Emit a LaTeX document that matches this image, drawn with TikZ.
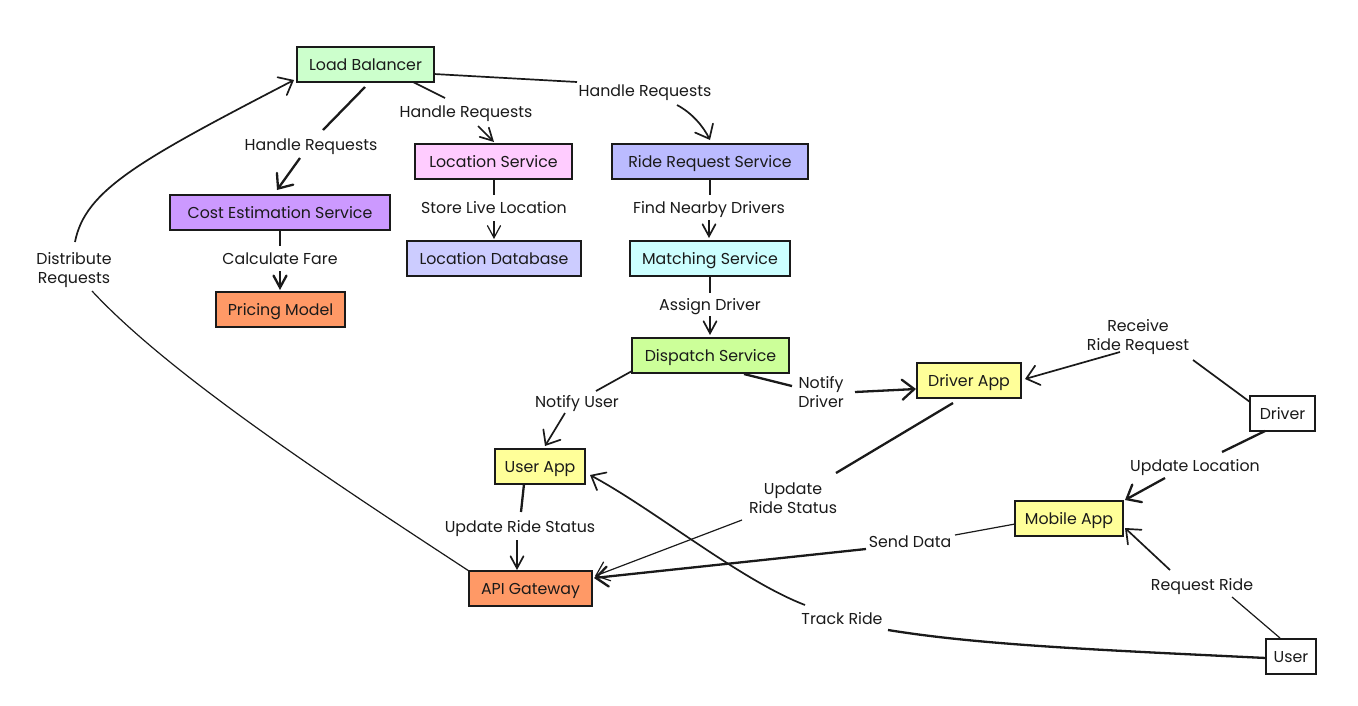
\documentclass[tikz,border=0pt]{standalone}
\usepackage{fontspec}
\setmainfont{Poppins}
\usetikzlibrary{arrows.meta}
\definecolor{cLB}{HTML}{CCFFCC}
\definecolor{cLoc}{HTML}{FFCCFF}
\definecolor{cRide}{HTML}{BBBBFF}
\definecolor{cCost}{HTML}{CC99FF}
\definecolor{cOrange}{HTML}{FF9966}
\definecolor{cLdb}{HTML}{CCCCFF}
\definecolor{cMatch}{HTML}{CCFFFF}
\definecolor{cDisp}{HTML}{CCFF99}
\definecolor{cYellow}{HTML}{FFFF99}
\definecolor{ink}{HTML}{1A1A1A}
\tikzset{
  x=1pt,y=-1pt,
  box/.style={draw=ink,line width=1.4pt,inner sep=0pt,outer sep=0pt,align=center,text=ink,text height=13pt,text depth=2pt,font=\fontsize{15.8}{19}\selectfont},
  lab/.style={inner sep=0pt,outer sep=0pt,align=center,text=ink,text height=15pt,text depth=2pt,font=\fontsize{15.8}{19}\selectfont},
  labm/.style={inner sep=0pt,outer sep=0pt,align=center,text=ink,font=\fontsize{15.8}{19}\selectfont},
  thinl/.style={draw=ink,line width=1.2pt},
  medl/.style={draw=ink,line width=1.7pt},
  thickl/.style={draw=ink,line width=2.3pt},
  arr/.style={-{Straight Barb[length=12pt,width=20pt,line cap=round]}},
  arrs/.style={-{Straight Barb[length=12pt,width=13pt,line cap=round]}},
}
\newcommand{\Pt}[3]{([shift={(#2,#3)}]#1.center)}
\begin{document}
\begin{tikzpicture}
\useasboundingbox (0,0) rectangle (1358,705);
\fill[white] (0,0) rectangle (1358,705);
% boxes
\node[box,fill=cLB,minimum width=137pt,minimum height=35pt] (lb) at (365.5,64.5) {Load Balancer};
\node[box,fill=cLoc,minimum width=157pt,minimum height=35pt] (loc) at (493.5,161.5) {Location Service};
\node[box,fill=cRide,minimum width=196pt,minimum height=35pt] (ride) at (710,161.5) {Ride Request Service};
\node[box,fill=cCost,minimum width=220pt,minimum height=35pt] (cost) at (280,212.5) {Cost Estimation Service};
\node[box,fill=cOrange,minimum width=129pt,minimum height=35pt] (price) at (280.5,309.5) {Pricing Model};
\node[box,fill=cLdb,minimum width=174pt,minimum height=35pt] (ldb) at (494,258.5) {Location Database};
\node[box,fill=cMatch,minimum width=160pt,minimum height=35pt] (match) at (710,258.5) {Matching Service};
\node[box,fill=cDisp,minimum width=157pt,minimum height=35pt] (disp) at (710.5,355.5) {Dispatch Service};
\node[box,fill=cYellow,minimum width=104pt,minimum height=35pt] (drv) at (969,380.5) {Driver App};
\node[box,fill=cYellow,minimum width=90pt,minimum height=35pt] (uapp) at (540,466.5) {User App};
\node[box,fill=cOrange,minimum width=123pt,minimum height=35pt] (api) at (530.5,588.5) {API Gateway};
\node[box,fill=cYellow,minimum width=108pt,minimum height=35pt] (mob) at (1069,518.5) {Mobile App};
\node[box,fill=white,minimum width=65pt,minimum height=35pt] (driver) at (1282.5,413.5) {Driver};
\node[box,fill=white,minimum width=50pt,minimum height=35pt] (user) at (1291,656.5) {User};
% labels
\node[lab] (hone) at (311,144) {Handle Requests};
\node[lab] (htwo) at (466,111) {Handle Requests};
\node[lab] (hthree) at (645,90) {Handle Requests};
\node[lab] (store) at (494,207) {Store Live Location};
\node[lab] (find) at (709,207) {Find Nearby Drivers};
\node[lab] (fare) at (280,258) {Calculate Fare};
\node[lab] (assign) at (710,304) {Assign Driver};
\node[lab] (nuser) at (577,401) {Notify User};
\node[labm] (ndriver) at (821,392) {Notify\\Driver};
\node[labm] (recv) at (1138,337) {Receive\\Ride Request};
\node[lab] (uloc) at (1195,465) {Update Location};
\node[labm] (ustat) at (793,498) {Update\\Ride Status};
\node[lab] (ustatb) at (520,526) {Update Ride Status};
\node[lab] (send) at (910,541) {Send Data};
\node[lab] (reqr) at (1202,584) {Request Ride};
\node[lab] (track) at (842,618) {Track Ride};
\node[labm] (dist) at (74,270) {Distribute\\Requests};
% connectors
\draw[thinl] \Pt{api}{-61.5}{-17.5} .. controls (330,480) and (170,375) .. \Pt{dist}{18}{21};
\draw[medl,arr] \Pt{dist}{1}{-28} .. controls (85,190) and (140,160) .. \Pt{lb}{-71.5}{15.5};
\draw[thickl] \Pt{lb}{-0.5}{22.5} -- \Pt{hone}{12}{-14};
\draw[thickl,arr] \Pt{hone}{-11}{14} -- \Pt{cost}{-3}{-22.5};
\draw[medl] \Pt{lb}{47.5}{17.5} -- \Pt{htwo}{-21}{-13};
\draw[medl,arrs] \Pt{htwo}{12}{15} -- \Pt{loc}{0.5}{-19.5};
\draw[medl] \Pt{lb}{68.5}{9.5} -- \Pt{hthree}{-68}{-8};
\draw[medl,arr] \Pt{hthree}{32}{15} .. controls (692,113) and (703,126) .. \Pt{ride}{0}{-21.5};
\draw[thickl] \Pt{loc}{0.5}{17.5} -- \Pt{store}{0}{-12};
\draw[thinl,arrs] \Pt{store}{0}{14} -- \Pt{ldb}{0}{-19.5};
\draw[thickl] \Pt{ride}{0}{17.5} -- \Pt{find}{1}{-12};
\draw[medl,arrs] \Pt{find}{0}{13} -- \Pt{match}{-1}{-20.5};
\draw[thickl] \Pt{cost}{0}{17.5} -- \Pt{fare}{0}{-12};
\draw[thickl,arrs] \Pt{fare}{0}{13} -- \Pt{price}{-0.5}{-19.5};
\draw[thickl] \Pt{match}{0}{17.5} -- \Pt{assign}{0}{-11};
\draw[medl,arrs] \Pt{assign}{0}{12} -- \Pt{disp}{-0.5}{-20.5};
\draw[medl] \Pt{disp}{-78.5}{15.5} -- \Pt{nuser}{19}{-10};
\draw[medl,arr] \Pt{nuser}{-12}{12} -- \Pt{uapp}{5}{-20.5};
\draw[thickl] \Pt{disp}{33.5}{18.5} -- \Pt{ndriver}{-29}{-6};
\draw[thickl,arr] \Pt{ndriver}{34}{0} -- \Pt{drv}{-53}{8.5};
\draw[medl] \Pt{driver}{-32.5}{-11.5} -- \Pt{recv}{55}{23};
\draw[medl,arr] \Pt{recv}{-18}{15} -- \Pt{drv}{56}{-1.5};
\draw[thickl] \Pt{driver}{-17.5}{17.5} -- \Pt{uloc}{27}{-13};
\draw[thickl,arr] \Pt{uloc}{-30}{13} -- \Pt{mob}{56}{-18.5};
\draw[thinl] \Pt{user}{-11}{-18.5} -- \Pt{reqr}{30}{13};
\draw[medl,arr] \Pt{reqr}{-32}{-14} -- \Pt{mob}{56}{9.5};
\draw[thinl] \Pt{mob}{-54}{5.5} -- \Pt{send}{45}{-6};
\draw[thickl,arr] \Pt{send}{-44}{8} -- \Pt{api}{63.5}{-10.5};
\draw[thickl] \Pt{drv}{-16}{22.5} -- \Pt{ustat}{43}{-25};
\draw[thinl,arr] \Pt{ustat}{-51}{22} -- \Pt{api}{64.5}{-12.5};
\draw[thickl] \Pt{uapp}{-16}{17.5} -- \Pt{ustatb}{1}{-14};
\draw[medl,arrs] \Pt{ustatb}{-3}{14} -- \Pt{api}{-13.5}{-18.5};
\draw[thickl] \Pt{user}{-25}{1.5} .. controls (1100,650) and (980,645) .. \Pt{track}{46}{12};
\draw[medl,arr] \Pt{track}{-37}{-13} .. controls (740,580) and (655,510) .. \Pt{uapp}{50}{8.5};
\end{tikzpicture}
\end{document}
